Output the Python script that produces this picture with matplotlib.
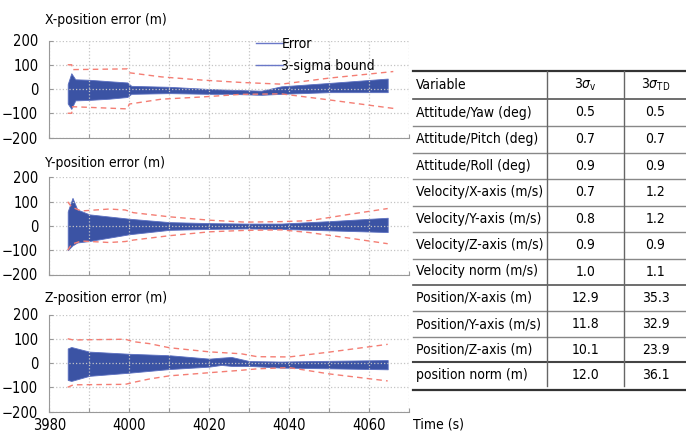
import numpy as np
import matplotlib.pyplot as plt
from matplotlib import font_manager

# busco una fuente estrecha (la figura original usa una helvetica condensada)
fuente = None
for fam in ['Liberation Sans Narrow', 'DejaVu Sans', 'Noto Sans', 'Open Sans', 'Roboto']:
    try:
        f = font_manager.findfont(font_manager.FontProperties(family=fam, stretch='condensed'),
                                  fallback_to_default=False)
    except Exception:
        continue
    if 'ondensed' in f or 'arrow' in f or 'Cond' in f:
        fuente = f
        break

if fuente is not None:
    font_manager.fontManager.addfont(fuente)
    nombre = font_manager.FontProperties(fname=fuente).get_name()
    plt.rcParams['font.family'] = [nombre, 'DejaVu Sans']
    plt.rcParams['font.stretch'] = 'condensed'
    fs_ax, fs_tit, fs_tab = 10.5, 10, 10
else:
    plt.rcParams['font.family'] = ['Liberation Sans', 'DejaVu Sans']
    fs_ax, fs_tit, fs_tab = 9.5, 9, 9

# --- datos ---
# envolvente de la senal de error (superior / inferior) y banda 3-sigma

# X
tb_x = [3984.6, 3985.5, 3986.5, 3990, 3995, 3999.5, 4000.5, 4010, 4020, 4025, 4033, 4038, 4050, 4064.6]
up_x = [20, 65, 40, 38, 32, 27, 13, 9, 0, -3, -7, 11, 25, 43]
lo_x = [-60, -82, -47, -45, -40, -33, -20, -17, -20, -20, -24, -20, -13, -13]
ts_x = [3984.6, 3985.6, 3985.8, 3999.5, 4000, 4008, 4018, 4028, 4038, 4050, 4066]
su_x = [100, 100, 80, 83, 67, 50, 37, 27, 20, 45, 72]
sl_x = [-100, -100, -73, -82, -62, -42, -33, -22, -20, -45, -80]

# Y
tb_y = [3984.6, 3985.8, 3987, 3990, 4000, 4010, 4020, 4029, 4038, 4050, 4064.6]
up_y = [60, 116, 68, 48, 30, 16, 12, 10, 10, 20, 34]
lo_y = [-100, -80, -68, -62, -34, -16, -12, -10, -12, -18, -25]
ts_y = [3984.6, 3985.6, 3988, 3995, 3999, 4001, 4010, 4020, 4029, 4038, 4045, 4055, 4064.6]
su_y = [100, 78, 62, 70, 66, 55, 38, 24, 16, 18, 22, 48, 72]
sl_y = [-100, -75, -62, -68, -64, -58, -40, -24, -18, -16, -27, -50, -73]

# Z
tb_z = [3984.6, 3985.5, 3990, 4000, 4010, 4020, 4023, 4025.5, 4030, 4038, 4050, 4064.6]
up_z = [60, 66, 47, 38, 32, 18, 22, 25, 8, 6, 9, 12]
lo_z = [-70, -74, -53, -40, -25, -15, -8, -12, -12, -19, -22, -26]
ts_z = [3984.6, 3986, 3999, 4001, 4005, 4010, 4020, 4028, 4032, 4040, 4050, 4064.6]
su_z = [100, 95, 98, 88, 80, 63, 46, 38, 26, 25, 45, 77]
sl_z = [-100, -90, -88, -80, -66, -53, -40, -30, -24, -19, -45, -74]

titulos = ['X-position error (m)', 'Y-position error (m)', 'Z-position error (m)']

# tabla
variables = ['Attitude/Yaw (deg)', 'Attitude/Pitch (deg)', 'Attitude/Roll (deg)',
             'Velocity/X-axis (m/s)', 'Velocity/Y-axis (m/s)', 'Velocity/Z-axis (m/s)',
             'Velocity norm (m/s)', 'Position/X-axis (m)', 'Position/Y-axis (m/s)',
             'Position/Z-axis (m)', 'position norm (m)']
sigma_v = ['0.5', '0.7', '0.9', '0.7', '0.8', '0.9', '1.0', '12.9', '11.8', '10.1', '12.0']
sigma_td = ['0.5', '0.7', '0.9', '1.2', '1.2', '0.9', '1.1', '35.3', '32.9', '23.9', '36.1']

W, H = 686, 432
fig = plt.figure(figsize=(W/100, H/100), dpi=100)

paneles = [(tb_x, up_x, lo_x, ts_x, su_x, sl_x),
           (tb_y, up_y, lo_y, ts_y, su_y, sl_y),
           (tb_z, up_z, lo_z, ts_z, su_z, sl_z)]
tops = [40.5, 177.5, 314.5]
tit_y = [20, 163, 298]

azul = '#3b53a4'
rojo = '#f47e74'

for k, (tb, up, lo, ts, su, sl) in enumerate(paneles):
    ax = fig.add_axes([49.3/W, 1-(tops[k]+97)/H, 360/W, 97/H])
    ax.fill_between(tb, lo, up, color=azul, lw=0.6, edgecolor='#5b6fc0')
    ax.plot(ts, su, color=rojo, ls=(0, (4, 3)), lw=1)
    ax.plot(ts, sl, color=rojo, ls=(0, (4, 3)), lw=1)
    ax.set_xlim(3980, 4070)
    ax.set_ylim(-200, 200)
    ax.set_yticks([-200, -100, 0, 100, 200])
    ax.set_xticks(np.arange(3980, 4071, 10))
    if k == 2:
        ax.set_xticklabels([str(v) if v % 20 == 0 else '' for v in np.arange(3980, 4071, 10)])
    else:
        ax.set_xticklabels([])
    ax.grid(True, color='#c4c4c4', ls=':', lw=0.9)
    for s in ['top', 'right']:
        ax.spines[s].set_visible(False)
    for s in ['left', 'bottom']:
        ax.spines[s].set_color('#999999')
    ax.tick_params(direction='in', length=3, color='#999999', labelsize=fs_ax)
    ax.tick_params(axis='y', pad=8)
    ax.tick_params(axis='x', pad=5)
    fig.text(45/W, 1-tit_y[k]/H, titulos[k], fontsize=fs_tit, va='center', ha='left')
    if k == 0:
        h1, = ax.plot([], [], color='#6a78c8', lw=1)
        h2, = ax.plot([], [], color='#6a78c8', lw=1)
        ax.legend([h1, h2], ['Error', '3-sigma bound'], loc='upper left',
                  bbox_to_anchor=(0.556, 1.11), frameon=False, fontsize=fs_tit,
                  handlelength=1.9, handletextpad=-0.1, borderpad=0, labelspacing=0.6)

fig.text(413/W, 1-425/H, 'Time (s)', fontsize=fs_tit, va='center', ha='left')

# tabla dibujada en coordenadas de pixel
tx = fig.add_axes([0, 0, 1, 1])
tx.set_xlim(0, W)
tx.set_ylim(H, 0)
tx.axis('off')
tx.patch.set_alpha(0)

lineas = [71, 99, 126, 152.5, 179, 205.5, 232, 258.5, 284.5, 311, 337, 362, 390]
for i, yl in enumerate(lineas):
    if i in (0, 12):
        tx.plot([413, 686], [yl, yl], color='#333333', lw=1.6)
    elif i == 11:
        tx.plot([413, 686], [yl, yl], color='#444444', lw=1.5)
    elif i in (1, 8):
        tx.plot([413, 686], [yl, yl], color='#555555', lw=1.2)
    else:
        tx.plot([413, 686], [yl, yl], color='#888888', lw=1.0)
tx.plot([546.7, 546.7], [71, 386], color='#666666', lw=1.0)
tx.plot([624.3, 624.3], [71, 386], color='#666666', lw=1.0)

yc = [(lineas[i]+lineas[i+1])/2 for i in range(12)]
tx.text(416, yc[0], 'Variable', fontsize=fs_tab, va='center', ha='left')
tx.text(585.5, yc[0], r'3$\sigma_{\rm v}$', fontsize=fs_tab, va='center', ha='center')
tx.text(655.5, yc[0], r'3$\sigma_{\rm TD}$', fontsize=fs_tab, va='center', ha='center')
for i in range(len(variables)):
    y0 = yc[i+1] if i < 10 else 375
    tx.text(416, y0, variables[i], fontsize=fs_tab, va='center', ha='left')
    tx.text(585.5, y0, sigma_v[i], fontsize=fs_tab, va='center', ha='center')
    tx.text(655.5, y0, sigma_td[i], fontsize=fs_tab, va='center', ha='center')

plt.savefig('out.png', dpi=100)
